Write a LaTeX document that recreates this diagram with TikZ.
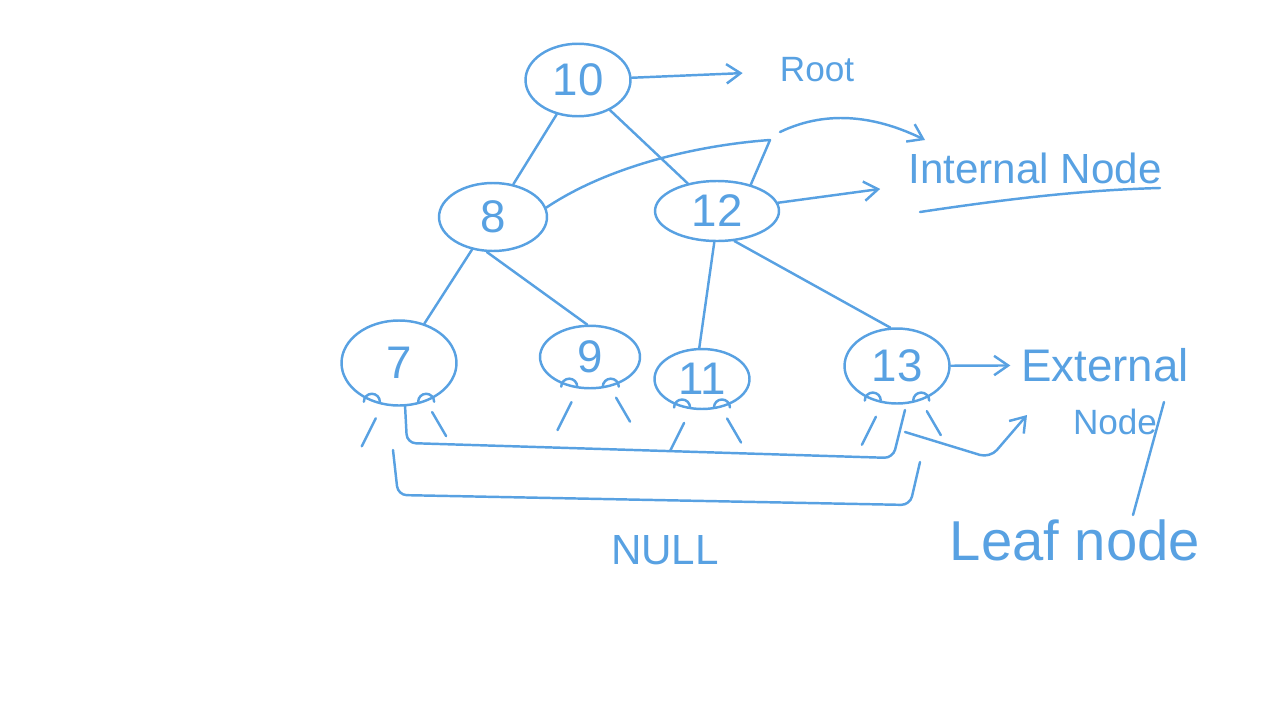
\documentclass[tikz,border=0pt]{standalone}
\usepackage{fontspec}
\setmainfont{Liberation Sans}
\usetikzlibrary{shapes.geometric,arrows.meta,positioning,calc}
\definecolor{ink}{RGB}{88,161,226}
\tikzset{
    treenode/.style={draw=ink, ellipse, line width=1.4pt, inner sep=0pt, text=ink,
                     font=\fontsize{26}{28}\selectfont},
    link/.style={draw=ink, line width=1.4pt, line cap=round, line join=round},
    pointer/.style={link, -{Straight Barb[length=8pt, width=11pt]}},
    note/.style={text=ink, inner sep=2pt},
}

\begin{document}
\begin{tikzpicture}[x={(0.02cm,0)}, y={(0,-0.02cm)}]
    \useasboundingbox (0,0) rectangle (1280,720);

    % Tree
    \node[treenode, minimum width=2.1cm, minimum height=1.45cm] (n10) at (578,80) {10};
    \node[treenode, minimum width=2.16cm, minimum height=1.36cm] (n8) at (493,217) {8};
    \node[treenode, minimum width=2.48cm, minimum height=1.2cm] (n12) at (717,211) {12};
    \node[treenode, minimum width=2.3cm, minimum height=1.7cm] (n7) at (399,363) {7};
    \node[treenode, minimum width=2.0cm, minimum height=1.25cm] (n9) at (590,357) {9};
    \node[treenode, minimum width=1.9cm, minimum height=1.2cm] (n11) at (702,379) {11};
    \node[treenode, minimum width=2.1cm, minimum height=1.5cm] (n13) at (897,366) {13};

    \draw[link] (n10) -- (n8);
    \draw[link] (n10) -- (n12);
    \draw[link] (n8) -- (n7);
    \draw[link] (n8.-100) -- (n9.95);
    \draw[link] (n12.-95) -- (n11.95);
    \draw[link] (n12.-60) -- (n13.100);

    % Null pointers of the leaves
    \foreach \leaf in {n7,n9,n11,n13} {
        \draw[link] (\leaf.-125) ++(-8,0) arc (180:360:8);
        \draw[link] (\leaf.-55) ++(-8,0) arc (180:360:8);
        \draw[link] (\leaf.-115) ++(-4,14) -- ++(-14,28);
        \draw[link] (\leaf.-50) ++(2,12) -- ++(14,24);
    }

    % Labels
    \node[note, font=\fontsize{20}{22}\selectfont] (root) at (817,70) {Root};
    \node[note, font=\fontsize{24}{26}\selectfont] (internal) at (1035,168) {Internal Node};
    \node[note, font=\fontsize{26}{28}\selectfont] (external) at (1105,365) {External};
    \node[note, font=\fontsize{20}{22}\selectfont] (extnode) at (1115,422) {Node};
    \node[note, font=\fontsize{32}{34}\selectfont] (leaf) at (1075,540) {Leaf node};
    \node[note, font=\fontsize{24}{26}\selectfont] (null) at (665,550) {NULL};

    \coordinate (kink) at (770,140);
    \coordinate (intarr) at (925,140);
    \coordinate (ulA) at (920,212);
    \coordinate (ulB) at (1160,188);
    \coordinate (slashtop) at (1164,402);
    \coordinate (slashbot) at (1133,515);
    \coordinate (extarr) at (1027,415);

    % Root
    \draw[pointer, shorten >=19pt] (n10) -- (root);

    % Internal nodes
    \draw[link] (n8.10) .. controls (610,165) and (700,145) .. (kink) -- (n12.38);
    \draw[pointer] (kink) ++(10,-8) .. controls (830,108) and (880,118) .. (intarr);
    \draw[pointer, shorten >=14pt] (n12) -- (internal);
    \draw[link] (ulA) .. controls (1000,200) and (1080,190) .. (ulB);

    % External / leaf nodes
    \draw[pointer, shorten >=4pt] (n13) -- (external);
    \draw[link, rounded corners=5pt] (405,405) -- (407,443) -- (893,458) -- (905,410);
    \draw[link, rounded corners=5pt] (393,450) -- (398,495) -- (910,505) -- (920,462);
    \draw[pointer, rounded corners=6pt] (905,432) -- (990,458) -- (extarr);
    \draw[link] (slashtop) -- (slashbot);
\end{tikzpicture}
\end{document}
